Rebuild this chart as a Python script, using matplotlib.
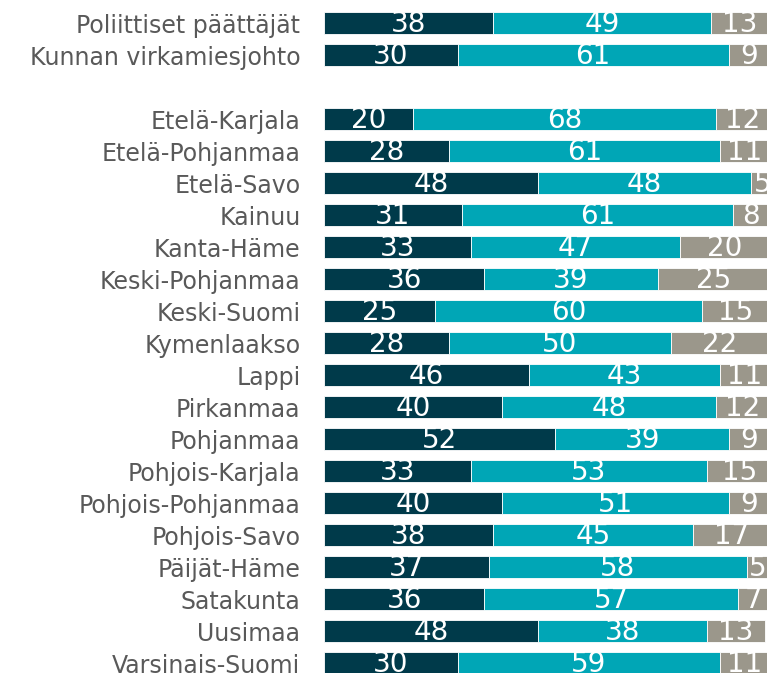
import numpy as np
import matplotlib.pyplot as plt

# Kategoriat (tyhjä rivi ryhmien välissä)
labels = ['Poliittiset päättäjät', 'Kunnan virkamiesjohto', '',
          'Etelä-Karjala', 'Etelä-Pohjanmaa', 'Etelä-Savo', 'Kainuu',
          'Kanta-Häme', 'Keski-Pohjanmaa', 'Keski-Suomi', 'Kymenlaakso',
          'Lappi', 'Pirkanmaa', 'Pohjanmaa', 'Pohjois-Karjala',
          'Pohjois-Pohjanmaa', 'Pohjois-Savo', 'Päijät-Häme', 'Satakunta',
          'Uusimaa', 'Varsinais-Suomi']

sarja1 = [38, 30, 0, 20, 28, 48, 31, 33, 36, 25, 28, 46, 40, 52, 33, 40, 38, 37, 36, 48, 30]
sarja2 = [49, 61, 0, 68, 61, 48, 61, 47, 39, 60, 50, 43, 48, 39, 53, 51, 45, 58, 57, 38, 59]
sarja3 = [13, 9, 0, 12, 11, 5, 8, 20, 25, 15, 22, 11, 12, 9, 15, 9, 17, 5, 7, 13, 11]

colors = ['#003a4a', '#00a6b6', '#9b978b']

fig = plt.figure(figsize=(7.67, 6.73), dpi=100)
ax = fig.add_axes([324 / 767, 0, 445 / 767, 1])

y = np.arange(len(labels))
left = np.zeros(len(labels))
for vals, c in zip([sarja1, sarja2, sarja3], colors):
    vals = np.array(vals, dtype=float)
    ax.barh(y, vals, left=left, height=0.7, color=c, edgecolor='white', linewidth=0.6)
    for yi, l, v in zip(y, left, vals):
        if v > 0:
            ax.text(l + v / 2, yi + 0.04, f'{int(v)}', ha='center', va='center',
                    color='white', fontsize=20, family=['DejaVu Sans Condensed', 'DejaVu Sans'])
    left += vals

ax.set_xlim(0, 100)
ax.set_ylim(20.31, -0.72)
ax.set_yticks(y)
ax.set_yticklabels(labels, fontsize=17, color='#595959')
ax.tick_params(axis='y', length=0, pad=17)
ax.set_xticks([])
for s in ax.spines.values():
    s.set_visible(False)

plt.savefig('out.png', dpi=100)
